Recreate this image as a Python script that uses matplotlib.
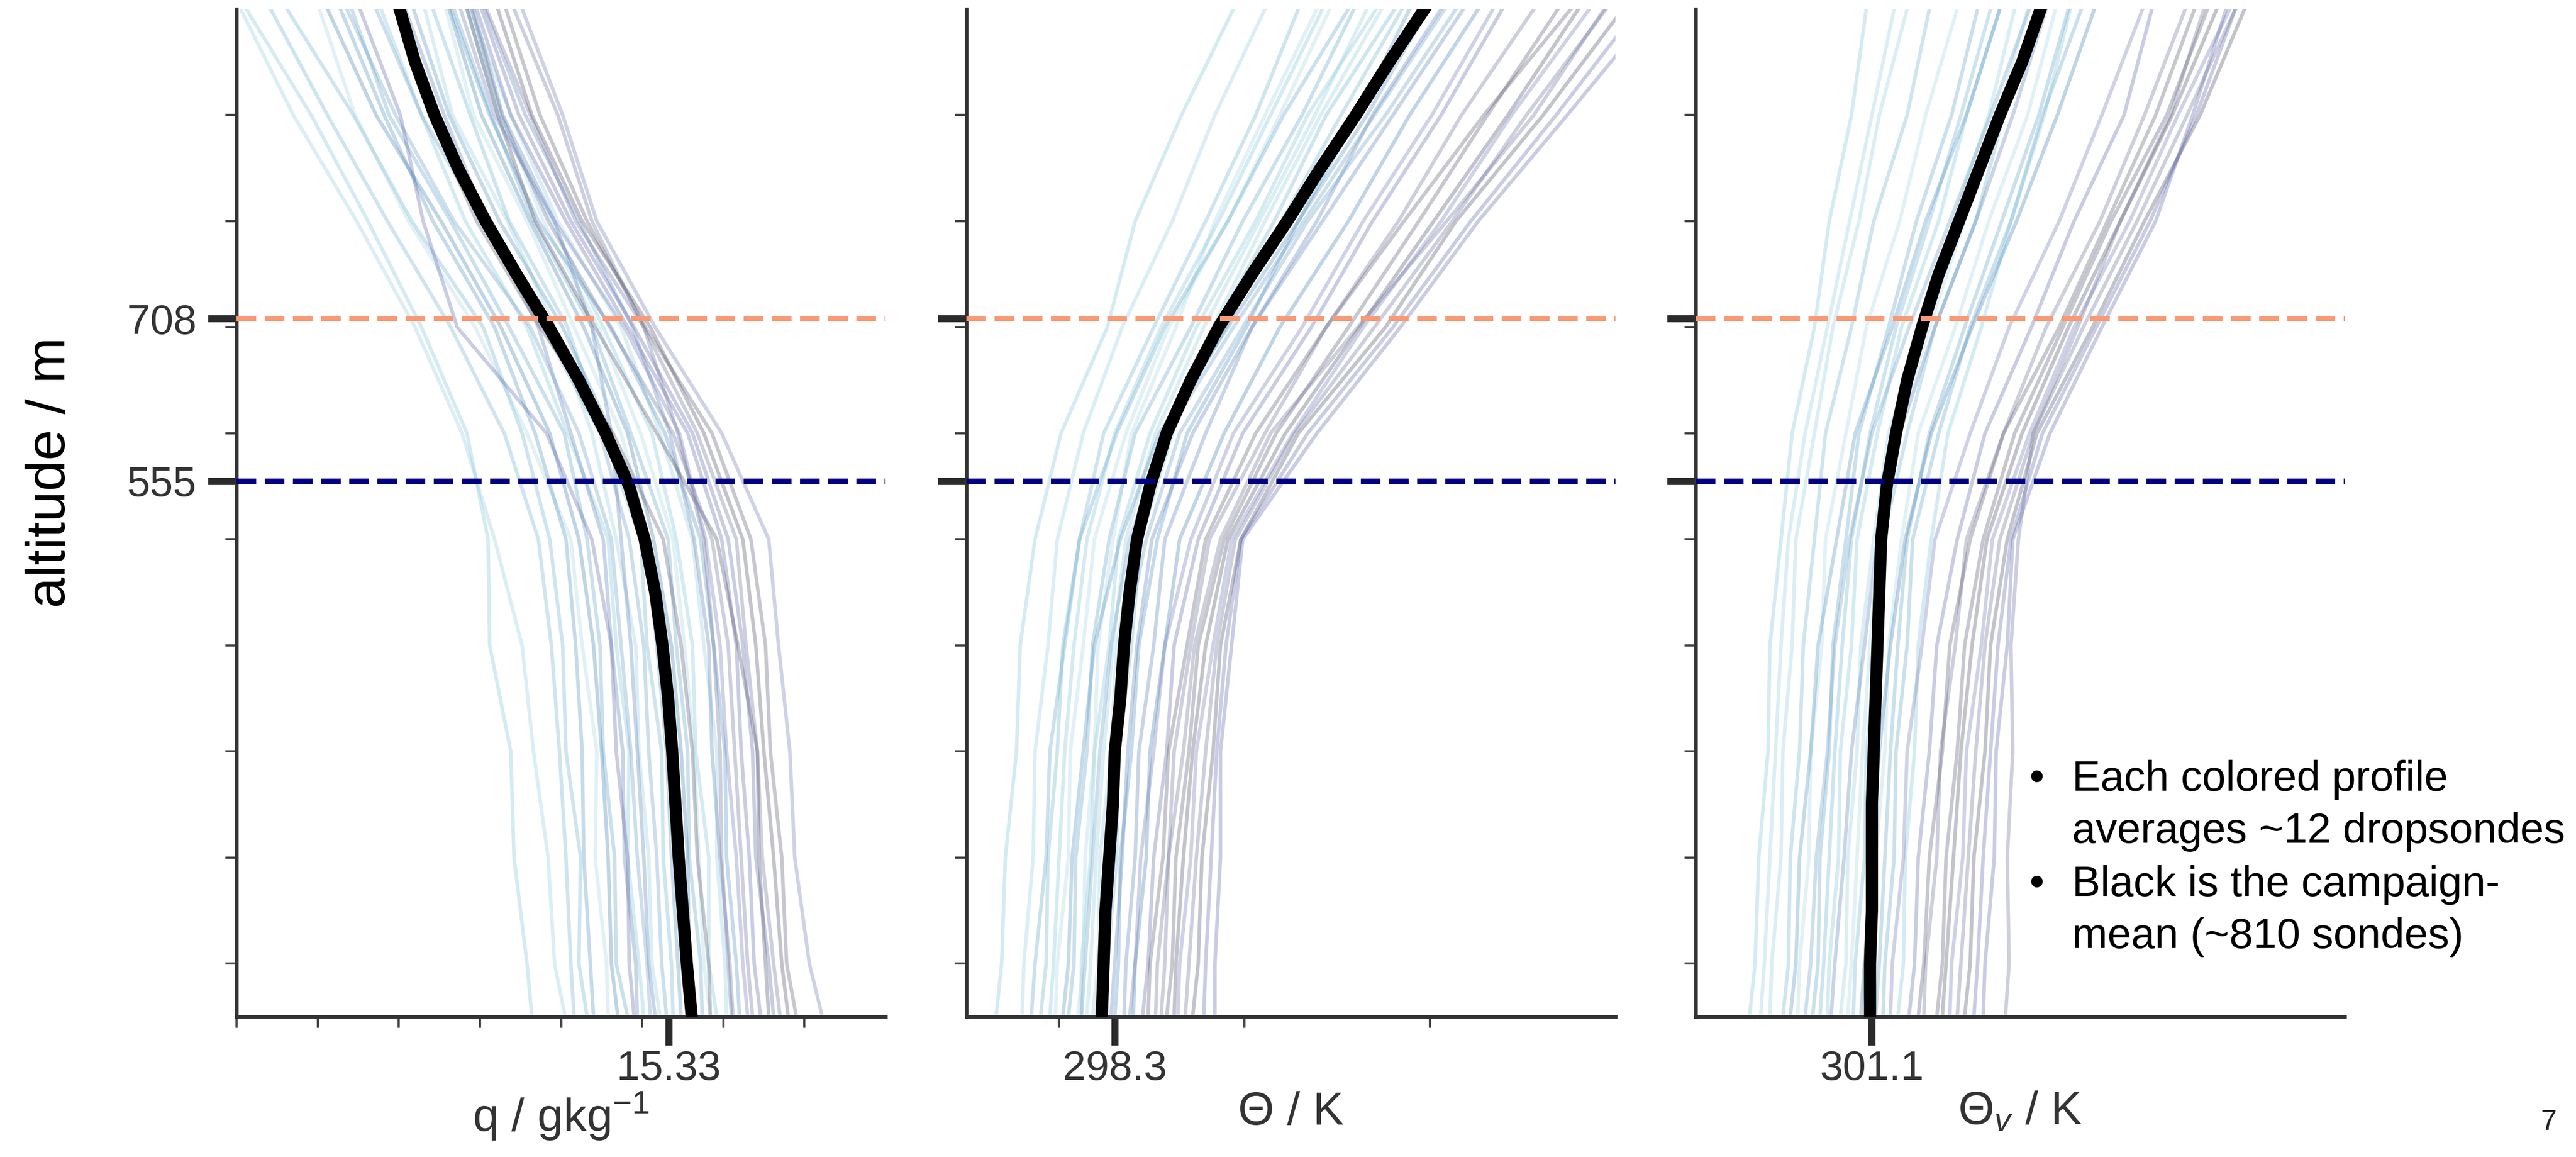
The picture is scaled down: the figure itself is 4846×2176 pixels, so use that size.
import matplotlib.pyplot as plt

plt.rcParams['font.family'] = ['Liberation Sans', 'DejaVu Sans']
plt.rcParams['mathtext.fontset'] = 'custom'
plt.rcParams['mathtext.rm'] = 'Liberation Sans'
plt.rcParams['mathtext.it'] = 'Liberation Sans:italic'

# altitude grids (m)
altitude = [50, 100, 200, 300, 400, 500, 600, 700, 800, 900, 1000]
mean_altitude = [50, 100, 150, 200, 250, 300, 350, 400, 450, 500,
                 550, 600, 650, 700, 750, 800, 850, 900, 950, 1000]

# inversion base / top
z_base = 555
z_top = 708

# campaign mean profiles
q_mean = [15.61, 15.55, 15.50, 15.45, 15.41, 15.37, 15.32, 15.25, 15.16, 15.03,
          14.84, 14.55, 14.22, 13.85, 13.45, 13.07, 12.73, 12.44, 12.20, 12.01]
theta_mean = [298.23, 298.24, 298.25, 298.27, 298.29, 298.30, 298.33, 298.35, 298.38, 298.42,
              298.49, 298.58, 298.71, 298.86, 299.04, 299.23, 299.41, 299.60, 299.78, 299.97]
thetav_mean = [301.09, 301.09, 301.10, 301.10, 301.10, 301.11, 301.12, 301.13, 301.14, 301.15,
               301.18, 301.23, 301.29, 301.37, 301.46, 301.57, 301.68, 301.79, 301.91, 302.01]

# mixed layer values shown on the x axes
q_tick = 15.33
theta_tick = 298.3
thetav_tick = 301.1

# circle-mean profiles (~12 sondes each), grouped by colour
q_light = [
    [13.64, 13.58, 13.42, 13.38, 13.12, 13.10, 12.84, 12.28, 11.62, 10.92, 10.12],
    [14.05, 13.92, 13.84, 13.66, 13.52, 13.18, 12.78, 12.20, 11.48, 10.70, 10.05],
    [14.32, 14.22, 14.24, 14.06, 14.02, 13.86, 13.52, 13.04, 12.16, 11.44, 10.62],
    [14.58, 14.56, 14.42, 14.44, 14.26, 14.12, 13.58, 12.94, 12.12, 11.46, 11.02],
    [14.82, 14.68, 14.66, 14.52, 14.48, 14.32, 14.04, 13.36, 12.64, 11.88, 11.42],
    [15.02, 14.96, 14.82, 14.84, 14.68, 14.58, 14.08, 13.58, 12.82, 12.28, 11.78],
    [15.22, 15.12, 15.08, 14.96, 14.92, 14.68, 14.38, 13.92, 13.34, 12.66, 12.32],
    [15.38, 15.36, 15.26, 15.24, 15.06, 14.98, 14.52, 14.08, 13.36, 12.88, 12.42],
    [15.56, 15.48, 15.48, 15.36, 15.32, 15.08, 14.74, 14.16, 13.58, 12.92, 12.58],
    [15.74, 15.72, 15.58, 15.56, 15.42, 15.32, 14.86, 14.38, 13.66, 13.14, 12.68],
    [15.92, 15.82, 15.82, 15.66, 15.62, 15.42, 15.12, 14.52, 13.88, 13.22, 12.84],
    [16.04, 16.02, 15.92, 15.92, 15.76, 15.62, 15.22, 14.74, 13.96, 13.38, 12.88],
    [14.16, 14.12, 14.06, 13.98, 13.88, 13.72, 13.30, 12.64, 11.86, 11.12, 10.42],
    [15.84, 15.76, 15.70, 15.64, 15.52, 15.38, 14.98, 14.46, 13.78, 13.28, 12.86],
]
q_mid = [
    [14.40, 14.36, 14.28, 14.26, 14.18, 14.06, 13.68, 13.18, 12.42, 11.82, 11.28],
    [14.94, 14.92, 14.78, 14.76, 14.62, 14.52, 14.12, 13.72, 13.08, 12.56, 12.08],
    [15.30, 15.24, 15.18, 15.08, 15.02, 14.84, 14.48, 13.78, 13.02, 12.28, 11.72],
    [15.66, 15.58, 15.56, 15.48, 15.36, 15.14, 14.82, 14.28, 13.62, 13.02, 12.62],
    [16.20, 16.16, 16.04, 16.02, 15.88, 15.72, 15.28, 14.62, 13.72, 13.12, 12.64],
    [15.16, 15.08, 15.02, 14.94, 14.86, 14.74, 14.62, 14.38, 13.92, 13.28, 12.92],
    [15.10, 15.06, 14.94, 14.86, 14.74, 14.62, 14.22, 13.62, 12.68, 11.96, 11.36],
    [14.70, 14.62, 14.58, 14.50, 14.40, 14.22, 13.86, 13.26, 12.52, 11.72, 11.12],
    [15.48, 15.44, 15.36, 15.30, 15.18, 15.04, 14.62, 14.02, 13.24, 12.62, 12.18],
    [16.12, 16.08, 15.96, 15.86, 15.82, 15.64, 15.34, 14.88, 14.22, 13.56, 13.06],
]
q_dark = [
    [16.46, 16.38, 16.32, 16.22, 16.16, 15.98, 15.56, 14.82, 14.06, 13.38, 12.96],
    [16.70, 16.62, 16.48, 16.42, 16.28, 16.16, 15.68, 15.02, 14.18, 13.62, 13.08],
    [16.90, 16.78, 16.72, 16.58, 16.52, 16.34, 15.86, 15.04, 14.32, 13.74, 13.32],
    [17.22, 17.06, 16.88, 16.82, 16.68, 16.56, 15.98, 15.16, 14.44, 14.02, 13.52],
    [16.56, 16.52, 16.44, 16.42, 16.18, 15.92, 15.18, 14.42, 13.68, 13.22, 12.84],
    [14.90, 14.84, 14.82, 14.68, 14.62, 14.38, 13.82, 12.72, 12.30, 12.02, 11.52],
    [16.10, 16.06, 15.98, 15.96, 15.88, 15.76, 15.44, 15.02, 14.38, 13.96, 13.42],
    [15.84, 15.82, 15.68, 15.62, 15.48, 15.26, 14.64, 13.74, 12.96, 12.38, 11.96],
    [16.30, 16.24, 16.16, 16.04, 15.96, 15.78, 15.46, 14.78, 13.92, 13.18, 12.76],
    [16.80, 16.72, 16.62, 16.50, 16.40, 16.24, 15.76, 15.10, 14.26, 13.64, 13.22],
    [16.62, 16.56, 16.40, 16.36, 16.24, 16.06, 15.62, 14.90, 14.12, 13.48, 13.02],
    [16.36, 16.30, 16.22, 16.14, 16.06, 15.86, 15.38, 14.60, 13.84, 13.26, 12.90],
]

theta_light = [
    [297.66, 297.69, 297.71, 297.77, 297.79, 297.87, 298.01, 298.26, 298.41, 298.66, 298.94],
    [297.80, 297.81, 297.86, 297.87, 297.94, 297.99, 298.13, 298.34, 298.61, 298.84, 299.11],
    [297.90, 297.93, 297.94, 297.99, 298.02, 298.11, 298.24, 298.51, 298.79, 299.06, 299.29],
    [297.98, 297.99, 298.05, 298.06, 298.13, 298.19, 298.36, 298.59, 298.91, 299.19, 299.46],
    [298.05, 298.08, 298.09, 298.15, 298.18, 298.27, 298.41, 298.71, 298.99, 299.31, 299.59],
    [298.12, 298.12, 298.17, 298.19, 298.27, 298.32, 298.49, 298.74, 299.06, 299.34, 299.71],
    [298.18, 298.21, 298.22, 298.28, 298.31, 298.41, 298.55, 298.83, 299.11, 299.41, 299.74],
    [298.25, 298.26, 298.31, 298.32, 298.39, 298.44, 298.61, 298.84, 299.16, 299.44, 299.81],
    [298.10, 298.13, 298.14, 298.19, 298.21, 298.29, 298.39, 298.63, 298.84, 299.11, 299.39],
    [297.85, 297.87, 297.93, 297.95, 298.03, 298.11, 298.31, 298.57, 298.91, 299.21, 299.56],
    [297.95, 297.97, 298.00, 298.03, 298.08, 298.15, 298.30, 298.55, 298.86, 299.14, 299.42],
    [298.15, 298.17, 298.20, 298.24, 298.29, 298.36, 298.52, 298.78, 299.08, 299.38, 299.66],
    [298.22, 298.23, 298.27, 298.30, 298.35, 298.43, 298.58, 298.90, 299.20, 299.52, 299.85],
]
theta_mid = [
    [298.30, 298.32, 298.33, 298.39, 298.43, 298.53, 298.69, 299.01, 299.29, 299.61, 299.89],
    [298.35, 298.36, 298.41, 298.43, 298.51, 298.57, 298.79, 299.04, 299.39, 299.69, 300.06],
    [298.20, 298.23, 298.25, 298.31, 298.35, 298.47, 298.65, 298.99, 299.34, 299.76, 300.14],
    [298.40, 298.41, 298.47, 298.49, 298.57, 298.65, 298.89, 299.19, 299.56, 299.89, 300.26],
    [298.02, 298.05, 298.07, 298.13, 298.19, 298.33, 298.54, 298.91, 299.29, 299.66, 299.99],
    [298.28, 298.30, 298.34, 298.37, 298.42, 298.50, 298.72, 299.04, 299.42, 299.80, 300.18],
    [298.12, 298.14, 298.18, 298.22, 298.28, 298.38, 298.58, 298.94, 299.32, 299.70, 300.08],
]
theta_dark = [
    [298.45, 298.48, 298.51, 298.58, 298.62, 298.75, 298.99, 299.36, 299.69, 300.06, 300.39],
    [298.52, 298.53, 298.59, 298.62, 298.71, 298.81, 299.11, 299.44, 299.83, 300.17, 300.56],
    [298.58, 298.61, 298.63, 298.70, 298.75, 298.89, 299.17, 299.56, 299.94, 300.31, 300.69],
    [298.64, 298.65, 298.71, 298.74, 298.83, 298.93, 299.26, 299.64, 300.06, 300.44, 300.86],
    [298.72, 298.75, 298.77, 298.83, 298.87, 298.98, 299.29, 299.76, 300.14, 300.61, 301.04],
    [298.84, 298.84, 298.87, 298.87, 298.93, 298.99, 299.39, 299.84, 300.26, 300.74, 301.21],
    [298.55, 298.57, 298.59, 298.67, 298.73, 298.87, 299.14, 299.61, 300.09, 300.56, 300.94],
    [298.48, 298.49, 298.56, 298.59, 298.69, 298.79, 299.06, 299.44, 299.86, 300.29, 300.76],
    [298.38, 298.41, 298.44, 298.51, 298.57, 298.71, 298.94, 299.31, 299.64, 300.01, 300.34],
    [298.62, 298.63, 298.67, 298.72, 298.79, 298.91, 299.22, 299.62, 300.02, 300.42, 300.80],
    [298.78, 298.79, 298.82, 298.85, 298.90, 298.98, 299.34, 299.80, 300.22, 300.68, 301.12],
    [298.68, 298.70, 298.74, 298.79, 298.85, 298.95, 299.27, 299.70, 300.12, 300.52, 300.95],
]

thetav_light = [
    [300.44, 300.47, 300.49, 300.54, 300.55, 300.61, 300.67, 300.79, 300.87, 300.99, 301.07],
    [300.55, 300.56, 300.61, 300.62, 300.67, 300.69, 300.79, 300.89, 301.03, 301.14, 301.29],
    [300.62, 300.65, 300.66, 300.71, 300.73, 300.79, 300.85, 300.99, 301.11, 301.29, 301.41],
    [300.70, 300.71, 300.76, 300.77, 300.83, 300.85, 300.96, 301.07, 301.25, 301.39, 301.56],
    [300.78, 300.81, 300.82, 300.87, 300.89, 300.96, 301.03, 301.19, 301.34, 301.53, 301.67],
    [300.86, 300.87, 300.92, 300.93, 300.99, 301.02, 301.13, 301.26, 301.46, 301.61, 301.79],
    [300.93, 300.96, 300.97, 301.02, 301.04, 301.11, 301.19, 301.37, 301.54, 301.73, 301.87],
    [301.00, 301.01, 301.06, 301.07, 301.13, 301.16, 301.29, 301.44, 301.66, 301.81, 301.99],
    [301.08, 301.11, 301.12, 301.17, 301.19, 301.26, 301.35, 301.55, 301.73, 301.94, 302.09],
    [301.16, 301.17, 301.22, 301.23, 301.29, 301.32, 301.46, 301.63, 301.85, 302.02, 302.23],
    [301.24, 301.27, 301.28, 301.33, 301.35, 301.42, 301.51, 301.69, 301.85, 302.03, 302.17],
    [300.50, 300.52, 300.55, 300.58, 300.61, 300.65, 300.74, 300.86, 300.98, 301.10, 301.22],
    [300.82, 300.84, 300.87, 300.90, 300.94, 300.99, 301.09, 301.23, 301.41, 301.58, 301.74],
    [300.97, 300.99, 301.02, 301.05, 301.09, 301.14, 301.24, 301.41, 301.60, 301.78, 301.94],
    [301.12, 301.14, 301.17, 301.20, 301.24, 301.29, 301.41, 301.60, 301.80, 302.00, 302.16],
]
thetav_mid = [
    [300.66, 300.69, 300.71, 300.77, 300.81, 300.91, 301.01, 301.21, 301.39, 301.61, 301.79],
    [300.88, 300.90, 300.95, 300.99, 301.06, 301.13, 301.25, 301.44, 301.66, 301.86, 302.04],
    [300.74, 300.77, 300.80, 300.86, 300.90, 300.98, 301.10, 301.30, 301.52, 301.74, 301.95],
    [301.04, 301.06, 301.10, 301.14, 301.20, 301.28, 301.42, 301.64, 301.88, 302.10, 302.30],
]
thetav_dark = [
    [301.30, 301.33, 301.35, 301.41, 301.45, 301.56, 301.71, 301.96, 302.19, 302.46, 302.61],
    [301.38, 301.39, 301.45, 301.47, 301.55, 301.61, 301.81, 302.04, 302.33, 302.57, 302.79],
    [301.45, 301.48, 301.50, 301.56, 301.60, 301.70, 301.87, 302.13, 302.39, 302.69, 302.91],
    [301.52, 301.53, 301.59, 301.61, 301.69, 301.75, 301.95, 302.19, 302.49, 302.75, 303.03],
    [301.60, 301.63, 301.65, 301.71, 301.74, 301.83, 301.99, 302.29, 302.57, 302.87, 303.11],
    [301.70, 301.71, 301.76, 301.77, 301.83, 301.86, 302.06, 302.34, 302.63, 302.83, 303.01],
    [301.82, 301.84, 301.83, 301.86, 301.85, 301.89, 301.97, 302.21, 302.44, 302.71, 302.89],
    [301.35, 301.38, 301.41, 301.48, 301.52, 301.63, 301.81, 302.11, 302.37, 302.63, 302.84],
    [301.20, 301.21, 301.27, 301.29, 301.37, 301.44, 301.63, 301.84, 302.11, 302.34, 302.56],
    [301.48, 301.50, 301.54, 301.58, 301.64, 301.72, 301.91, 302.16, 302.44, 302.72, 302.96],
    [301.65, 301.67, 301.70, 301.74, 301.78, 301.85, 302.02, 302.31, 302.60, 302.85, 303.06],
    [301.56, 301.58, 301.62, 301.66, 301.71, 301.79, 301.97, 302.24, 302.53, 302.80, 303.06],
]

light_colors = ['#7ec3d8', '#93cde0', '#6bb0d0', '#a5d5e3', '#5ea3c8']
mid_colors = ['#4f8fc0', '#5a7fb8', '#6a9cc6', '#3f7fb3']
dark_colors = ['#5c64a8', '#6a6f9a', '#55556e', '#7077b5', '#4b4b66']

W, H = 4846, 2176
fig = plt.figure(figsize=(W / 300, H / 300), dpi=300)

panels = [
    (445, q_light, q_mid, q_dark, q_mean, (10, 18), q_tick, '15.33',
     [10, 11, 12, 13, 14, 15, 16, 17], 'q / gkg$^{-1}$'),
    (1818, theta_light, theta_mid, theta_dark, theta_mean, (297.5, 301.0), theta_tick, '298.3',
     [298, 299, 300], 'Θ / K'),
    (3190, thetav_light, thetav_mid, thetav_dark, thetav_mean, (300.15, 303.65), thetav_tick, '301.1',
     [], 'Θ$_v$ / K'),
]

for i, (left, light, mid, dark, mean, xlim, xt, xtl, xminor, xlabel) in enumerate(panels):
    ax = fig.add_axes([left / W, 264 / H, 1221 / W, 1895 / H])

    for groups, colors in ((light, light_colors), (mid, mid_colors), (dark, dark_colors)):
        for k, prof in enumerate(groups):
            ax.plot(prof, altitude, color=colors[k % len(colors)], alpha=0.33, lw=1.6,
                    zorder=2, solid_joinstyle='round')

    ax.plot(mean, mean_altitude, color='black', lw=5.5, zorder=3, solid_joinstyle='round')

    ax.axhline(z_top, color='#fa9a74', ls='--', lw=2.4, zorder=4)
    ax.axhline(z_base, color='#000080', ls='--', lw=2.4, zorder=4)

    ax.set_xlim(*xlim)
    ax.set_ylim(50, 1000)

    for s in ['top', 'right']:
        ax.spines[s].set_visible(False)
    for s in ['left', 'bottom']:
        ax.spines[s].set_linewidth(1.6)
        ax.spines[s].set_color('#333333')

    ax.set_yticks([z_base, z_top])
    ax.set_yticks(range(100, 1000, 100), minor=True)
    ax.set_xticks([xt])
    ax.set_xticklabels([xtl])
    ax.set_xticks(xminor, minor=True)
    if i == 0:
        ax.set_yticklabels([str(z_base), str(z_top)])
    else:
        ax.tick_params(axis='y', labelleft=False)

    ax.tick_params(which='major', length=13, width=3.2, color='#2b2b2b',
                   labelsize=18.8, labelcolor='#333333')
    ax.tick_params(axis='x', which='major', pad=2)
    ax.tick_params(axis='y', which='major', pad=5)
    ax.tick_params(which='minor', length=5, width=1.0, color='#444444')

    ax.set_xlabel(xlabel, fontsize=21, color='#333333', labelpad=1)

fig.text(95 / W, 1 - 888 / H, 'altitude / m', rotation=90, fontsize=25,
         ha='center', va='center', color='black')

# notes on the right
notes = [
    (1487, True, 'Each colored profile'),
    (1585, False, 'averages ~12 dropsondes'),
    (1685, True, 'Black is the campaign-'),
    (1783, False, 'mean (~810 sondes)'),
]
for y, bullet, line in notes:
    if bullet:
        fig.text(3832 / W, 1 - y / H, '•', fontsize=19.2, ha='center', va='baseline')
    fig.text(3898 / W, 1 - y / H, line, fontsize=19.2, ha='left', va='baseline')

fig.text(4794 / W, 1 - 2111 / H, '7', fontsize=13, ha='center', va='center', color='#222222')

fig.savefig('out.png', dpi=300)
